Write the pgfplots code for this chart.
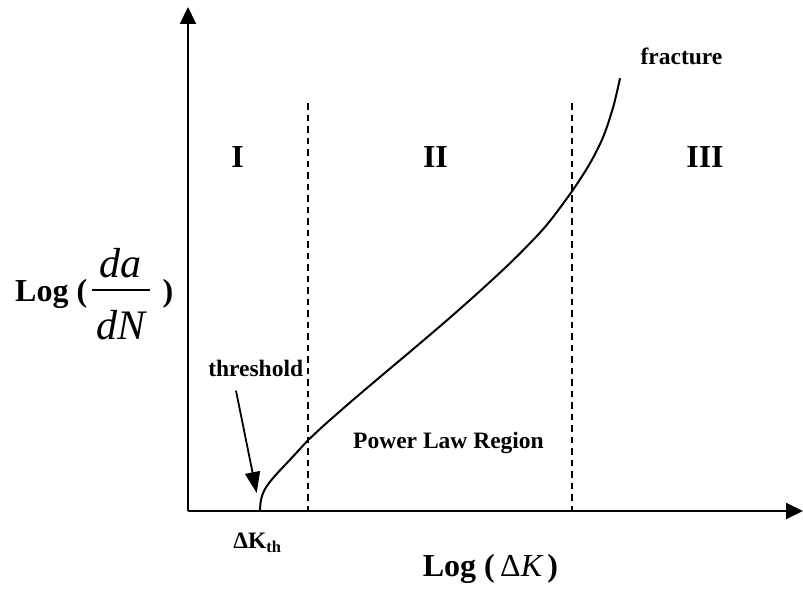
\documentclass[border=0pt]{standalone}
\usepackage{fontspec}
\setmainfont{Liberation Serif}
\usepackage{pgfplots}
\usepackage{pgfplotstable}
\pgfplotsset{compat=1.18}
\usetikzlibrary{arrows.meta}

\newcommand{\largelabel}{\fontsize{32bp}{38bp}\selectfont\bfseries}
\newcommand{\smalllabel}{\fontsize{23.5bp}{28bp}\selectfont\bfseries}
\newcommand{\fracfont}{\fontsize{42bp}{50bp}\selectfont\itshape}

% schematic crack growth rate curve (log da/dN against log Delta K)
\pgfplotstableread{
x y
72 0
72.5 8
74 15
77 22
83 30.5
90 38.5
98 47
108.7 58.5
120.3 71
132 82
142 91
162 108.5
192 134
225.3 162
258.7 190.5
292 220
325.3 251
357 284
383.7 319.3
402 347.7
415.3 374.3
425.3 404.3
432 432.7
}\crackgrowth

\begin{document}
\begin{tikzpicture}
\begin{axis}[
  scale only axis, width=615bp, height=504bp,
  xmin=0, xmax=615, ymin=0, ymax=504,
  axis lines=left,
  axis line style={line width=2bp},
  x axis line style={-{Triangle[length=17bp,width=16bp]}},
  y axis line style={-{Triangle[length=17bp,width=16bp]}},
  xtick=\empty, ytick=\empty,
  clip=false,
]
\addplot[black, line width=2bp, smooth, tension=0.5] table {\crackgrowth};
% region boundaries
\addplot[black, line width=2bp, dash pattern=on 6.5bp off 5bp] coordinates {(119.7,407.7) (119.7,0)};
\addplot[black, line width=2bp, dash pattern=on 6.5bp off 5bp] coordinates {(383.7,407.7) (383.7,0)};

\node[font=\largelabel, anchor=base, inner sep=0] at (axis cs:49.5,343) {I};
\node[font=\largelabel, anchor=base, inner sep=0] at (axis cs:247.5,343) {II};
\node[font=\largelabel, anchor=base, inner sep=0] at (axis cs:517,343) {III};

\node[font=\smalllabel, anchor=base, inner sep=0] at (axis cs:493.5,446) {fracture};
\node[font=\smalllabel, anchor=base, inner sep=0] at (axis cs:67.7,134) {threshold};
\node[font=\smalllabel, anchor=base, inner sep=0] at (axis cs:260.5,63) {Power Law Region};
\draw[line width=1.8bp, -{Triangle[length=21bp,width=15bp]}] (axis cs:48,120.3) -- (axis cs:68.7,18);

\node[font=\smalllabel, anchor=base, inner sep=0] at (axis cs:69.5,-37.3) {ΔK\textsubscript{th}};
\node[font=\largelabel, anchor=base, inner sep=0] at (axis cs:302.5,-65.7) {Log (\,{\mdseries Δ\itshape K}\,)};

% y axis label: Log (da/dN)
\node[font=\largelabel, anchor=base west, inner sep=0] at (axis cs:-173,209.3) {Log (};
\node[font=\largelabel, anchor=base, inner sep=0] at (axis cs:-20,209.3) {)};
\node[font=\fracfont, anchor=base, inner sep=0] at (axis cs:-67.2,233) {da};
\node[anchor=center, inner sep=0] at (axis cs:-67.2,221) {\rule{58bp}{1.3bp}};
\node[font=\fracfont, anchor=base, inner sep=0] at (axis cs:-67.2,171) {dN};
\end{axis}
\pgfresetboundingbox
\useasboundingbox (-188bp,-79bp) rectangle (615bp,511bp);
\end{tikzpicture}
\end{document}
